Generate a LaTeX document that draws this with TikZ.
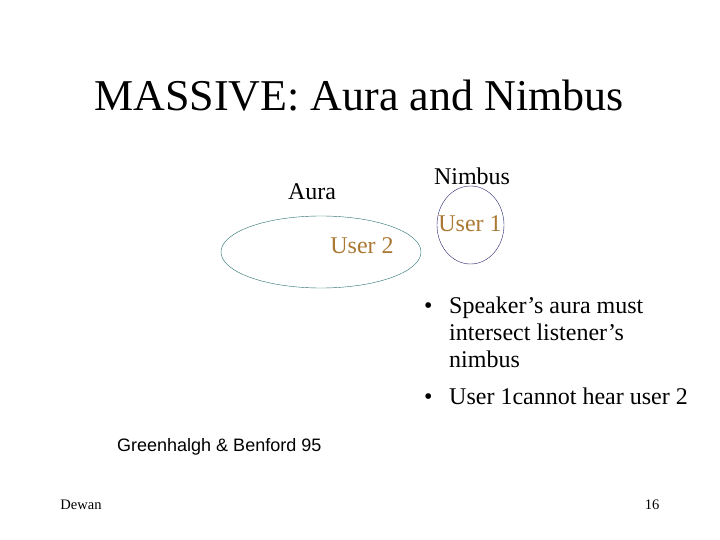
\documentclass[tikz,border=0pt]{standalone}
\usepackage{fontspec}
\setmainfont{Liberation Serif}
\newfontfamily\arialf{Liberation Sans}
\definecolor{userc}{RGB}{170,120,50}
\definecolor{ellc}{RGB}{40,110,110}
\definecolor{circc}{RGB}{40,40,110}
\begin{document}
\begin{tikzpicture}[x=1pt,y=-1pt,
  lbl/.style={font=\fontsize{24}{28}\selectfont,inner sep=0pt},
  usr/.style={lbl,text=userc}]
\useasboundingbox (0,0) rectangle (720,540);
\node[inner sep=0pt,font=\fontsize{44}{50}\selectfont] (title) at (359,96) {MASSIVE: Aura and Nimbus};
\node[lbl] (aura) at (312,192) {Aura};
\node[lbl] (nimbus) at (472,176) {Nimbus};
\draw[ellc,thin] (321,252) ellipse [x radius=100, y radius=36];
\node[usr] (u2) at (362,246) {User 2};
\draw[circc,thin] (470.5,225) ellipse [x radius=33.5, y radius=39];
\node[usr] (u1) at (470,224) {User 1};
\node[lbl,anchor=north west] (b1) at (424,294) {\strut\textbullet};
\node[lbl,anchor=north west,align=left] (t1) at (449,294) {\strut Speaker’s aura must\\[-1pt]intersect listener’s\\[-1pt]nimbus};
\node[lbl,anchor=north west] (b2) at (424,385) {\strut\textbullet};
\node[lbl,anchor=north west] (t2) at (449,385) {\strut User 1cannot hear user 2};
\node[inner sep=0pt,anchor=west,font=\arialf\fontsize{18}{21}\selectfont] (ref) at (117,447) {Greenhalgh \& Benford 95};
\node[inner sep=0pt,font=\fontsize{14.5}{16}\selectfont] (dw) at (81,505) {Dewan};
\node[inner sep=0pt,font=\fontsize{14.5}{16}\selectfont] (pg) at (652,505) {16};
\end{tikzpicture}
\end{document}
